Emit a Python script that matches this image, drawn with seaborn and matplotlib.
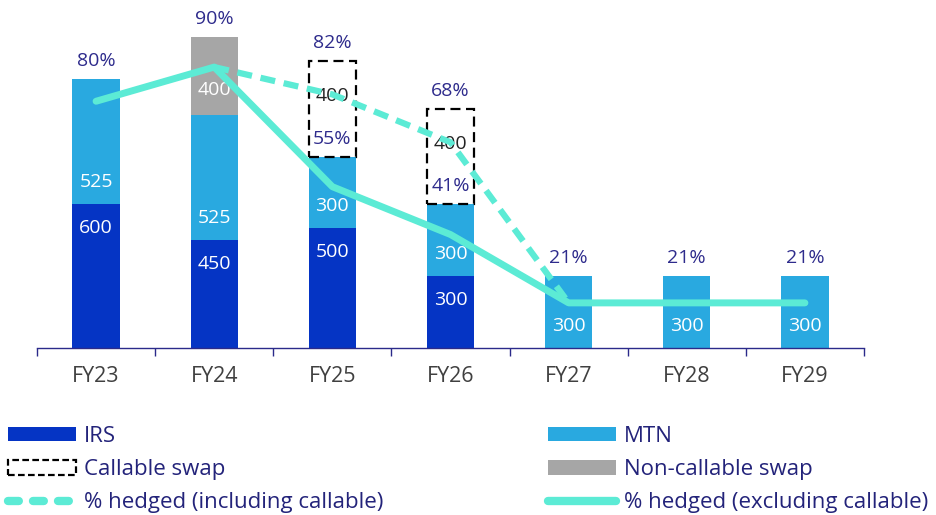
import matplotlib
matplotlib.use("Agg")
import matplotlib.pyplot as plt
import seaborn as sns
import numpy as np
import pandas as pd
from matplotlib.patches import Patch
from matplotlib.lines import Line2D

# ---- data ----
years = ["FY23", "FY24", "FY25", "FY26", "FY27", "FY28", "FY29"]
irs = [600, 450, 500, 300, 0, 0, 0]
mtn = [525, 525, 300, 300, 300, 300, 300]
non_callable = [0, 400, 0, 0, 0, 0, 0]
callable_swap = [0, 0, 400, 400, 0, 0, 0]
hedged_excl = [80, 90, 55, 41, 21, 21, 21]
hedged_incl = [np.nan, 90, 82, 68, 21, np.nan, np.nan]

# ---- style ----
sns.set_theme(style="white")
plt.rcParams["font.family"] = ["Open Sans", "DejaVu Sans"]

C_IRS = "#0534C4"
C_MTN = "#29A9E0"
C_GRAY = "#A6A6A6"
C_LINE = "#5CEBD5"
C_PCT = "#2E2B8C"
C_AX = "#2B2A8A"
C_TICK = "#404040"
C_LEG = "#23237A"

YMAX = 1300
PMIN, PMAX = 7.8, 98.8

FS_TICK = 15.5
FS_BAR = 14
FS_PCT = 14
FS_LEG = 16

df = pd.DataFrame({"year": years, "irs": irs, "mtn": mtn, "nc": non_callable,
                   "cs": callable_swap, "excl": hedged_excl, "incl": hedged_incl})
df["pos"] = np.arange(len(df))
df["base_nc"] = df["irs"] + df["mtn"]
df["base_cs"] = df["irs"] + df["mtn"] + df["nc"]

fig = plt.figure(figsize=(9.37, 5.15), dpi=100)
ax = fig.add_axes([37 / 937, 1 - 348 / 515, (864 - 37) / 937, (348 - 37) / 515])

W = 0.4
sns.barplot(data=df, x="year", y="irs", order=years, color=C_IRS, width=W,
            errorbar=None, ax=ax, saturation=1, linewidth=0)
sns.barplot(data=df, x="year", y="mtn", order=years, color=C_MTN, width=W,
            errorbar=None, ax=ax, saturation=1, linewidth=0, bottom=df["irs"].values)
nc_df = df[df["nc"] > 0]
sns.barplot(data=nc_df, x="year", y="nc", order=years, color=C_GRAY, width=W,
            errorbar=None, ax=ax, saturation=1, linewidth=0, bottom=nc_df["base_nc"].values)
cs_df = df[df["cs"] > 0]
sns.barplot(data=cs_df, x="year", y="cs", order=years, width=W, errorbar=None, ax=ax,
            color="black", saturation=1,
            facecolor="none", edgecolor="black", linewidth=1.6, linestyle=(0, (4.5, 2.5)),
            bottom=cs_df["base_cs"].values)

ax.set_xlim(-0.5, len(years) - 0.5)
ax.set_ylim(0, YMAX)
ax.set_xlabel("")
ax.set_ylabel("")
ax.set_yticks([])
for s in ["top", "right", "left"]:
    ax.spines[s].set_visible(False)
ax.spines["bottom"].set_color(C_AX)
ax.spines["bottom"].set_linewidth(1.0)
ax.set_xticks(np.arange(len(years)))
ax.set_xticklabels(years, fontsize=FS_TICK, color=C_TICK)
ax.set_xticks(np.arange(-0.5, len(years)), minor=True)
ax.tick_params(axis="x", which="major", length=0, pad=13)
ax.tick_params(axis="x", which="minor", length=6, width=1.0, color=C_AX, direction="out",
               bottom=True)

# segment labels
for i in range(len(years)):
    if irs[i] > 0:
        ax.annotate(str(irs[i]), (i, irs[i]), xytext=(0, -17), textcoords="offset points",
                    ha="center", va="center", color="white", fontsize=FS_BAR)
    if mtn[i] > 0:
        ax.annotate(str(mtn[i]), (i, irs[i]), xytext=(0, 16), textcoords="offset points",
                    ha="center", va="center", color="white", fontsize=FS_BAR)
    if non_callable[i] > 0:
        ax.annotate(str(non_callable[i]), (i, irs[i] + mtn[i]), xytext=(0, 18),
                    textcoords="offset points", ha="center", va="center", color="white",
                    fontsize=FS_BAR)
    if callable_swap[i] > 0:
        ax.annotate(str(callable_swap[i]), (i, df["base_cs"][i] + callable_swap[i] / 2),
                    xytext=(0, 9), textcoords="offset points", ha="center", va="center",
                    color="#222222", fontsize=FS_BAR)
    excl_top = min(irs[i] + mtn[i] + non_callable[i], YMAX)
    ax.annotate(f"{hedged_excl[i]}%", (i, excl_top), xytext=(0, 13), textcoords="offset points",
                ha="center", va="center", color=C_PCT, fontsize=FS_PCT, annotation_clip=False)
    if callable_swap[i] > 0:
        incl_top = min(df["base_cs"][i] + callable_swap[i], YMAX)
        ax.annotate(f"{int(hedged_incl[i])}%", (i, incl_top), xytext=(0, 13),
                    textcoords="offset points", ha="center", va="center", color=C_PCT,
                    fontsize=FS_PCT, annotation_clip=False)

# lines on secondary axis
ax2 = ax.twinx()
sns.lineplot(data=df, x="pos", y="excl", ax=ax2, color=C_LINE, linewidth=5,
             solid_capstyle="round", solid_joinstyle="round")
inc_df = df.dropna(subset=["incl"])
sns.lineplot(data=inc_df, x="pos", y="incl", ax=ax2, color=C_LINE, linewidth=4.5,
             linestyle=(0, (2.4, 1.4)))
ax2.set_ylim(PMIN, PMAX)
ax2.set_xlim(-0.5, len(years) - 0.5)
ax2.set_yticks([])
ax2.set_ylabel("")
ax2.set_xlabel("")
for s in ["top", "right", "left", "bottom"]:
    ax2.spines[s].set_visible(False)

# legends
h_irs = Patch(facecolor=C_IRS, edgecolor="none")
h_mtn = Patch(facecolor=C_MTN, edgecolor="none")
h_cs = Patch(facecolor="none", edgecolor="black", linewidth=1.6, linestyle=(0, (3, 1.5)))
h_nc = Patch(facecolor=C_GRAY, edgecolor="none")
h_incl = Line2D([], [], color=C_LINE, linewidth=6, linestyle=(0.0, (1.3, 1.7)),
                dash_capstyle="round")
h_excl = Line2D([], [], color=C_LINE, linewidth=6, solid_capstyle="round")

leg_kw = dict(loc="upper left", frameon=False, fontsize=FS_LEG, handlelength=3.05,
              handleheight=0.63, handletextpad=0.36, labelspacing=0.55, borderpad=0,
              borderaxespad=0, labelcolor=C_LEG)
leg1 = fig.legend([h_irs, h_cs, h_incl],
                  ["IRS", "Callable swap", "% hedged (including callable)"],
                  bbox_to_anchor=(8 / 937, 1 - 426 / 515), **leg_kw)
leg2 = fig.legend([h_mtn, h_nc, h_excl],
                  ["MTN", "Non-callable swap", "% hedged (excluding callable)"],
                  bbox_to_anchor=(548 / 937, 1 - 426 / 515), **leg_kw)

fig.savefig("out.png", dpi=100)
